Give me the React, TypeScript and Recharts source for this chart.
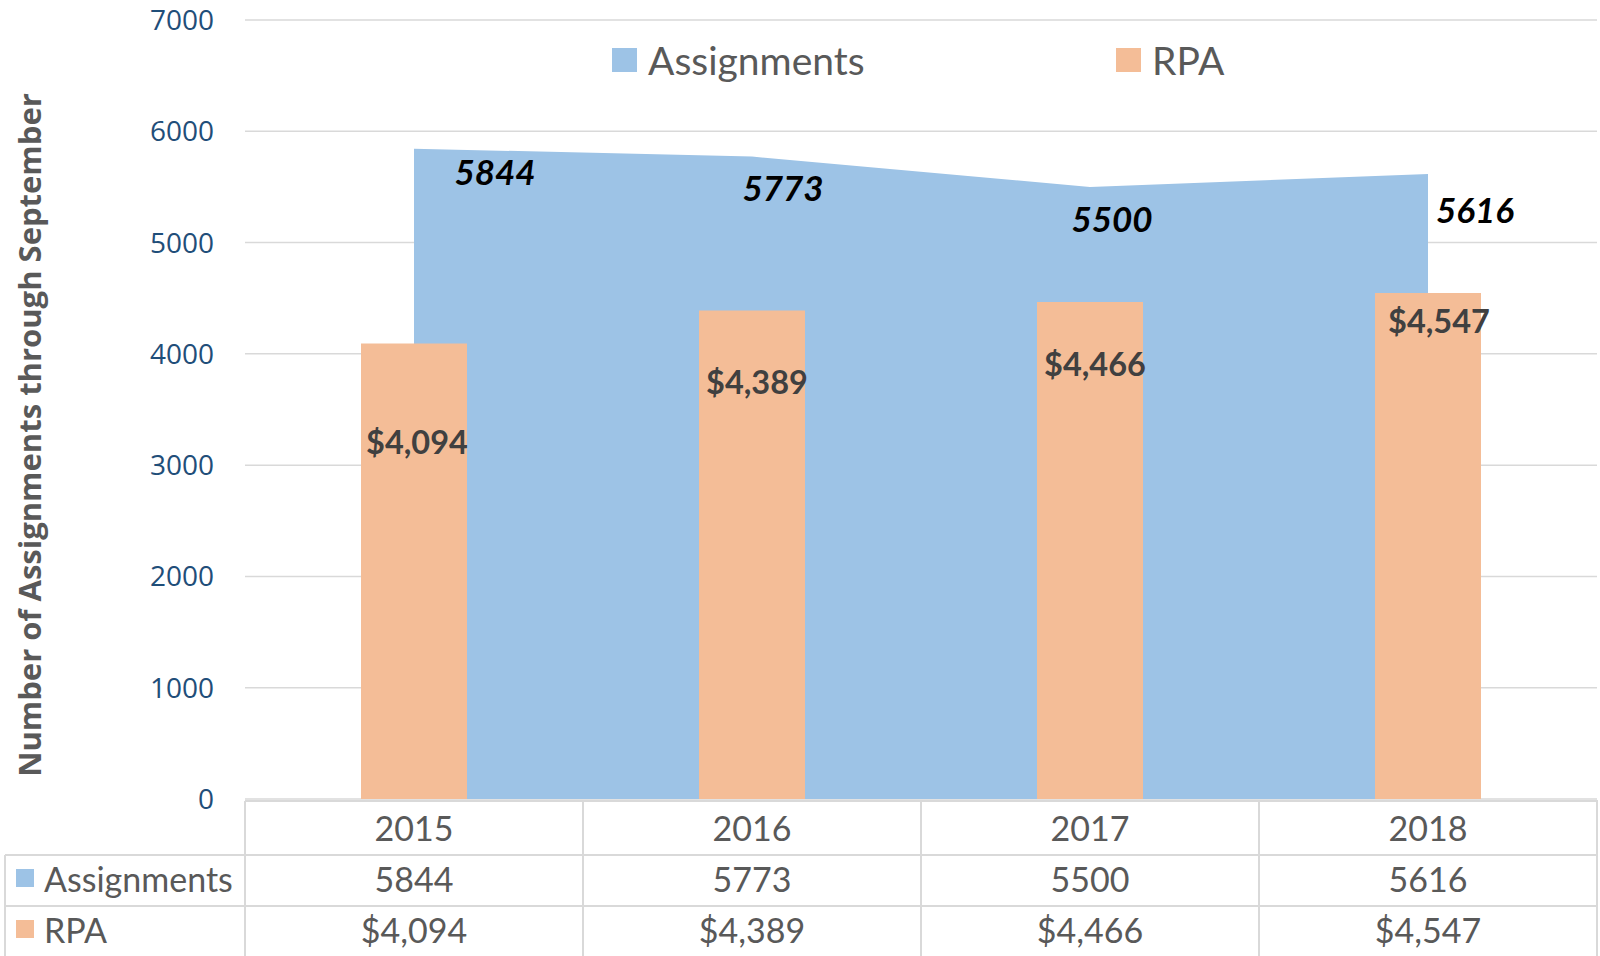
import { ComposedChart, Area, Bar, XAxis, YAxis, CartesianGrid, Legend, LabelList } from 'recharts';

const years = ['2015', '2016', '2017', '2018'];
const assignments = [5844, 5773, 5500, 5616];
const rpa = [4094, 4389, 4466, 4547];
const yTicks = [0, 1000, 2000, 3000, 4000, 5000, 6000, 7000];

// hand-placed label nudges, like the dragged labels in the original
const assignmentNudge = [[81, 22], [31, 30], [22, 31], [47, 35]];
const rpaNudge = [[3, 98], [5, 71], [5, 62], [11, 28]];

const BLUE = '#9DC3E6';
const PEACH = '#F4BD97';
const GRID = '#D9D9D9';
const TEXT = '#595959';

const rows = years.map((year, i) => ({ year, assignments: assignments[i], rpa: rpa[i] }));

const fmtMoney = (v: number) => '$' + v.toLocaleString('en-US');

function TableTick(props: any) {
  const { x, y, payload, index } = props;
  const half = 169;
  const row = rows[index];
  const txt = { fontFamily: 'Lato', fontSize: 34, fill: TEXT, textAnchor: 'middle' as const, dominantBaseline: 'central' as const };
  return (
    <g>
      {index === 0 && (
        <g>
          <line x1={x - half} x2={1598} y1={y + 2} y2={y + 2} stroke={GRID} strokeWidth={2} />
          <line x1={5} x2={1598} y1={y + 56} y2={y + 56} stroke={GRID} strokeWidth={2} />
          <line x1={5} x2={1598} y1={y + 107} y2={y + 107} stroke={GRID} strokeWidth={2} />
          <line x1={5} x2={5} y1={y + 56} y2={956} stroke={GRID} strokeWidth={2} />
          <line x1={x - half} x2={x - half} y1={y + 2} y2={956} stroke={GRID} strokeWidth={2} />
          <rect x={16} y={y + 70} width={18} height={18} fill={BLUE} />
          <text x={44} y={y + 79} {...txt} textAnchor="start">Assignments</text>
          <rect x={16} y={y + 121} width={18} height={18} fill={PEACH} />
          <text x={44} y={y + 130} {...txt} textAnchor="start">RPA</text>
        </g>
      )}
      <line x1={x + half} x2={x + half} y1={y + 2} y2={956} stroke={GRID} strokeWidth={2} />
      <text x={x} y={y + 28} {...txt}>{payload.value}</text>
      <text x={x} y={y + 79} {...txt}>{row.assignments}</text>
      <text x={x} y={y + 130} {...txt}>{fmtMoney(row.rpa)}</text>
    </g>
  );
}

function AssignmentLabel(props: any) {
  const { x, y, value, index } = props;
  const [dx, dy] = assignmentNudge[index];
  return (
    <text x={x + dx} y={y + dy} textAnchor="middle" dominantBaseline="central"
      fontFamily="Lato" fontSize={35} fontWeight="bold" fontStyle="italic" fill="#000">
      {value}
    </text>
  );
}

function RpaLabel(props: any) {
  const { x, y, width, value, index } = props;
  const [dx, dy] = rpaNudge[index];
  return (
    <text x={x + width / 2 + dx} y={y + dy} textAnchor="middle" dominantBaseline="central"
      fontFamily="Lato" fontSize={32.5} fontWeight="bold" fill="#404040">
      {fmtMoney(value)}
    </text>
  );
}

function LegendBox() {
  const item = (color: string, label: string, w: number) => (
    <div style={{ display: 'flex', alignItems: 'center', width: w }}>
      <div style={{ width: 25, height: 24, background: color, marginRight: 11 }} />
      <span style={{ fontFamily: 'Lato', fontSize: 39, color: TEXT }}>{label}</span>
    </div>
  );
  return (
    <div style={{ display: 'flex' }}>
      {item(BLUE, 'Assignments', 504)}
      {item(PEACH, 'RPA', 200)}
    </div>
  );
}

function AxisTitle() {
  return (
    <text x={29} y={435} transform="rotate(-90 29 435)" textAnchor="middle" dominantBaseline="central"
      fontFamily="Open Sans" fontSize={31} fontWeight="bold" fill={TEXT}>
      Number of Assignments through September
    </text>
  );
}

export default function App() {
  return (
    <div style={{ position: 'absolute', left: 0, top: 0, width: 1600, height: 956, background: '#fff' }}>
      <ComposedChart width={1600} height={956} data={rows} margin={{ top: 20, right: 3, bottom: 0, left: 0 }}>
        <CartesianGrid stroke={GRID} strokeWidth={1.5} vertical={false} />
        <XAxis dataKey="year" axisLine={false} tickLine={false} tickSize={0} tickMargin={0} height={157}
          interval={0} tick={<TableTick />} />
        <YAxis domain={[0, 7000]} ticks={yTicks} width={245} axisLine={false} tickLine={false} tickSize={0}
          tickMargin={31} tick={{ fontFamily: 'Open Sans', fontSize: 28, fill: '#1F4E79' }}
          label={<AxisTitle />} />
        <Legend verticalAlign="middle" content={<LegendBox />}
          wrapperStyle={{ top: 37, left: 612, width: 'auto' }} />
        <Area dataKey="assignments" name="Assignments" type="linear" fill={BLUE} fillOpacity={1} stroke="none"
          isAnimationActive={false}>
          <LabelList dataKey="assignments" content={<AssignmentLabel />} />
        </Area>
        <Bar dataKey="rpa" name="RPA" fill={PEACH} barSize={106} isAnimationActive={false}>
          <LabelList dataKey="rpa" content={<RpaLabel />} />
        </Bar>
      </ComposedChart>
    </div>
  );
}
